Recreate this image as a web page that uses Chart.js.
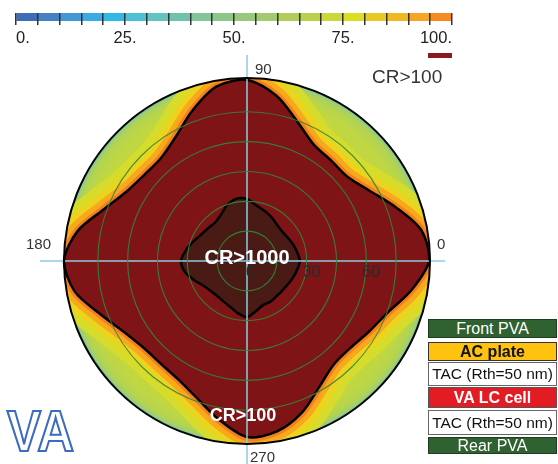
<!DOCTYPE html>
<html>
<head>
<meta charset="utf-8">
<script src="https://cdn.jsdelivr.net/npm/chart.js@4.4.1/dist/chart.umd.min.js"></script>
<style>
  body { margin: 0; background: #fff; width: 558px; height: 464px; overflow: hidden; position: relative;
         font-family: "Liberation Sans", Arial, sans-serif; }
  #main, #cb { position: absolute; left: 0; top: 0; }
  .layer { position: absolute; left: 428px; width: 129px; box-sizing: border-box; display: flex;
           align-items: center; justify-content: center; white-space: nowrap; font-size: 16px; line-height: 1; }
  .pva { background: #2f6131; color: #fff; border: 1px solid #1e3d1f; }
  .ac { background: #ffc20e; color: #111; font-weight: bold; border: 1px solid #333; }
  .tac { background: #fff; color: #111; border: 1px solid #666; font-size: 15.5px; }
  .lc { background: #e31b23; color: #fff; font-weight: bold; border: 1px solid #555; }
  #va { position: absolute; left: 7px; top: 398px; font: bold 51px "Liberation Sans", Arial, sans-serif;
        color: #fff; -webkit-text-stroke: 2px #3c6cc0; transform: scaleY(1.12); transform-origin: top left; }
</style>
</head>
<body>
<canvas id="main" width="558" height="464"></canvas>
<canvas id="cb" width="470" height="60"></canvas>

<div class="layer pva" style="top:319px;height:19px">Front PVA</div>
<div class="layer ac" style="top:342px;height:19px">AC plate</div>
<div class="layer tac" style="top:362px;height:24px">TAC (Rth=50 nm)</div>
<div class="layer lc" style="top:387px;height:21px">VA LC cell</div>
<div class="layer tac" style="top:410px;height:25px">TAC (Rth=50 nm)</div>
<div class="layer pva" style="top:437px;height:17px">Rear PVA</div>
<div id="va">VA</div>

<script>
// Viewing-angle contrast map: azimuth (deg, counter-clockwise from 3 o'clock) vs polar angle.
const azimuths = [0, 10, 20, 30, 40, 50, 60, 70, 80, 90, 100, 110, 120, 130, 140, 150, 160, 170,
                  180, 190, 200, 210, 220, 230, 240, 250, 260, 270, 280, 290, 300, 310, 320, 330, 340, 350];
// polar angle of the CR = 100 contour at each azimuth
const cr100 = [91.5, 89, 79.4, 70.9, 65.9, 65.9, 67.4, 74.4, 84.5, 91, 89, 80.4, 71.9, 67.4, 67.4, 69.9, 76.4, 86.5,
               92, 88, 78.4, 71.4, 67.9, 67.4, 68.9, 73.4, 81, 88.5, 87, 81, 72.9, 67.9, 67.9, 70.9, 75.4, 84];
// polar angle of the CR = 1000 contour
const cr1000 = [26.6, 25.6, 24.6, 23.6, 23.1, 23.6, 25.1, 26.6, 28.2, 31.2, 31.7, 29.7, 26.6, 25.1, 25.6, 26.6, 28.7, 31.2,
                33.2, 31.7, 28.2, 25.1, 23.6, 23.1, 23.6, 24.6, 26.6, 28.2, 25.6, 23.6, 23.6, 23.1, 23.1, 23.6, 24.6, 25.6];
const ringLabels = [0, 30, 60];
const polarMax = 92;

// colour bar
const cbTicks = [0, 25, 50, 75, 100];
const cbStep = 5;
const cbColors = ['#3d6db5', '#4580c4', '#4596d4', '#3aabe3', '#30b8e6', '#4dc0d6', '#63c3bf', '#6fc3ad',
                  '#80c69a', '#8cc78a', '#98c87c', '#a2ca6e', '#b0cd5c', '#bcd04c', '#cad83c', '#dadf22',
                  '#e8c822', '#f0b823', '#f6a623', '#f58a22'];

function el(id) { return document.getElementById(id); }

// radar runs clockwise from 12 o'clock, so reorder starting at azimuth 90 going down
const start = azimuths.indexOf(90);
const order = azimuths.map((a, k) => (start - k + azimuths.length) % azimuths.length);
const radarLabels = order.map(i => azimuths[i]);
const cr100Data = order.map(i => cr100[i]);
const cr1000Data = order.map(i => cr1000[i]);

// clip selected datasets to the polar disk
const diskClip = {
  id: 'diskClip',
  beforeDatasetDraw(chart, args) {
    if (!chart.data.datasets[args.index].diskClip) return;
    const s = chart.scales.r, ctx = chart.ctx;
    ctx.save();
    ctx.beginPath();
    ctx.arc(s.xCenter, s.yCenter, s.drawingArea, 0, Math.PI * 2);
    ctx.clip();
  },
  afterDatasetDraw(chart, args) {
    if (chart.data.datasets[args.index].diskClip) chart.ctx.restore();
  }
};

// background of the map (low-contrast zone) and the cyan axes
const mapBackground = {
  id: 'mapBackground',
  beforeDatasetsDraw(chart) {
    const s = chart.scales.r, ctx = chart.ctx;
    const g = ctx.createRadialGradient(s.xCenter, s.yCenter, 0, s.xCenter, s.yCenter, s.drawingArea);
    g.addColorStop(0, '#c4d93c');
    g.addColorStop(0.9, '#c0d742');
    g.addColorStop(0.96, '#b4d450');
    g.addColorStop(0.985, '#a2cf6c');
    g.addColorStop(1, '#5cbad2');
    ctx.save();
    ctx.fillStyle = g;
    ctx.beginPath();
    ctx.arc(s.xCenter, s.yCenter, s.drawingArea, 0, Math.PI * 2);
    ctx.fill();
    ctx.restore();
  },
  afterDatasetsDraw(chart) {
    const s = chart.scales.r, ctx = chart.ctx;
    ctx.save();
    ctx.strokeStyle = '#8ccbe2';
    ctx.lineWidth = 1.5;
    ctx.beginPath();
    ctx.moveTo(s.xCenter - 207, s.yCenter); ctx.lineTo(s.xCenter + 198, s.yCenter);
    ctx.moveTo(s.xCenter, s.yCenter - 206); ctx.lineTo(s.xCenter, s.yCenter + 205);
    ctx.stroke();
    ctx.restore();
  }
};

const polarText = {
  id: 'polarText',
  afterDraw(chart) {
    const s = chart.scales.r, ctx = chart.ctx;
    const cx = s.xCenter, cy = s.yCenter, R = s.drawingArea;
    const fam = '"Liberation Sans", Arial, sans-serif';
    ctx.save();
    ctx.textBaseline = 'middle';
    ctx.fillStyle = '#333';
    ctx.font = '15px ' + fam;
    ctx.textAlign = 'left';
    ctx.fillText('90', cx + 8, cy - R - 8);
    ctx.fillText('0', cx + R + 7, cy - 16);
    ctx.fillText('270', cx + 3, cy + R + 14);
    ctx.textAlign = 'right';
    ctx.fillText('180', cx - R - 13, cy - 16);

    // ring labels along the 0 deg axis
    ctx.textAlign = 'left';
    ctx.font = '16px ' + fam;
    ctx.fillStyle = '#2a2a2a';
    ringLabels.forEach(v => {
      const d = s.getDistanceFromCenterForValue(v);
      ctx.fillText(String(v), cx + d - (v ? 4 : 1), cy + 12);
    });

    ctx.textAlign = 'center';
    ctx.fillStyle = '#fff';
    ctx.font = 'bold 20px ' + fam;
    ctx.fillText('CR>1000', cx, cy - 3);
    ctx.font = 'bold 18px ' + fam;
    ctx.fillText('CR>100', cx - 4, cy + 155);

    // legend swatch for the dark red zone
    ctx.fillStyle = '#8b1a1e';
    ctx.fillRect(428, 53, 24, 5);
    ctx.fillStyle = '#333';
    ctx.textAlign = 'left';
    ctx.font = '19px ' + fam;
    ctx.fillText('CR>100', 372, 78);
    ctx.restore();
  }
};

function band(color, width) {
  return { data: cr100Data, fill: false, borderColor: color, borderWidth: width, borderJoinStyle: 'round',
           tension: 0.3, pointRadius: 0, diskClip: true };
}

new Chart(el('main'), {
  type: 'radar',
  data: {
    labels: radarLabels,
    datasets: [
      { data: cr1000Data, fill: true, backgroundColor: 'rgba(70,28,22,0.93)', borderColor: '#000',
        borderWidth: 2.5, tension: 0.3, pointRadius: 0 },
      { data: cr100Data, fill: true, backgroundColor: '#7e1416', borderColor: '#000',
        borderWidth: 2.5, tension: 0.3, pointRadius: 0 },
      band('#f2801c', 8),
      band('#f7a81d', 18),
      band('#ecd41e', 30),
      band('#d6dc2c', 46)
    ]
  },
  options: {
    responsive: false,
    animation: false,
    layout: { padding: { left: 64, top: 78, right: 128, bottom: 20 } },
    plugins: { legend: { display: false }, tooltip: { enabled: false } },
    scales: {
      r: {
        min: 0, max: polarMax, startAngle: 0,
        ticks: { display: false, stepSize: 15 },
        pointLabels: { display: false },
        angleLines: { display: false },
        grid: {
          circular: true, z: 1,
          color: ctx => ctx.tick.value >= polarMax ? '#000' : (ctx.tick.value >= 90 ? 'rgba(0,0,0,0)' : 'rgba(48,135,58,0.9)'),
          lineWidth: ctx => ctx.tick.value >= polarMax ? 2 : 1.1
        }
      }
    }
  },
  plugins: [diskClip, mapBackground, polarText]
});

// colour bar as a stacked horizontal bar; the x axis box is given a fixed
// height so the bar itself stays 8 px tall (13..21)
new Chart(el('cb'), {
  type: 'bar',
  data: {
    labels: [''],
    datasets: cbColors.map(c => ({ data: [cbStep], backgroundColor: c, borderWidth: 0,
                                   barPercentage: 1, categoryPercentage: 1 }))
  },
  options: {
    indexAxis: 'y',
    responsive: false,
    animation: false,
    layout: { padding: { left: 16, right: 18, top: 13, bottom: 0 } },
    plugins: { legend: { display: false }, tooltip: { enabled: false } },
    scales: {
      y: { stacked: true, display: false },
      x: {
        stacked: true, min: 0, max: 100,
        afterFit: scale => { scale.height = 39; },
        border: { display: false },
        grid: { z: 1, color: '#333', lineWidth: 1.5, drawOnChartArea: true, tickLength: 4 },
        ticks: {
          stepSize: cbStep, autoSkip: false, maxRotation: 0, align: 'inner', padding: 4, color: '#222',
          font: { family: '"Liberation Sans", Arial, sans-serif', size: 16.5 },
          callback: v => cbTicks.includes(v) ? v + '.' : ''
        }
      }
    }
  }
});
</script>
</body>
</html>
